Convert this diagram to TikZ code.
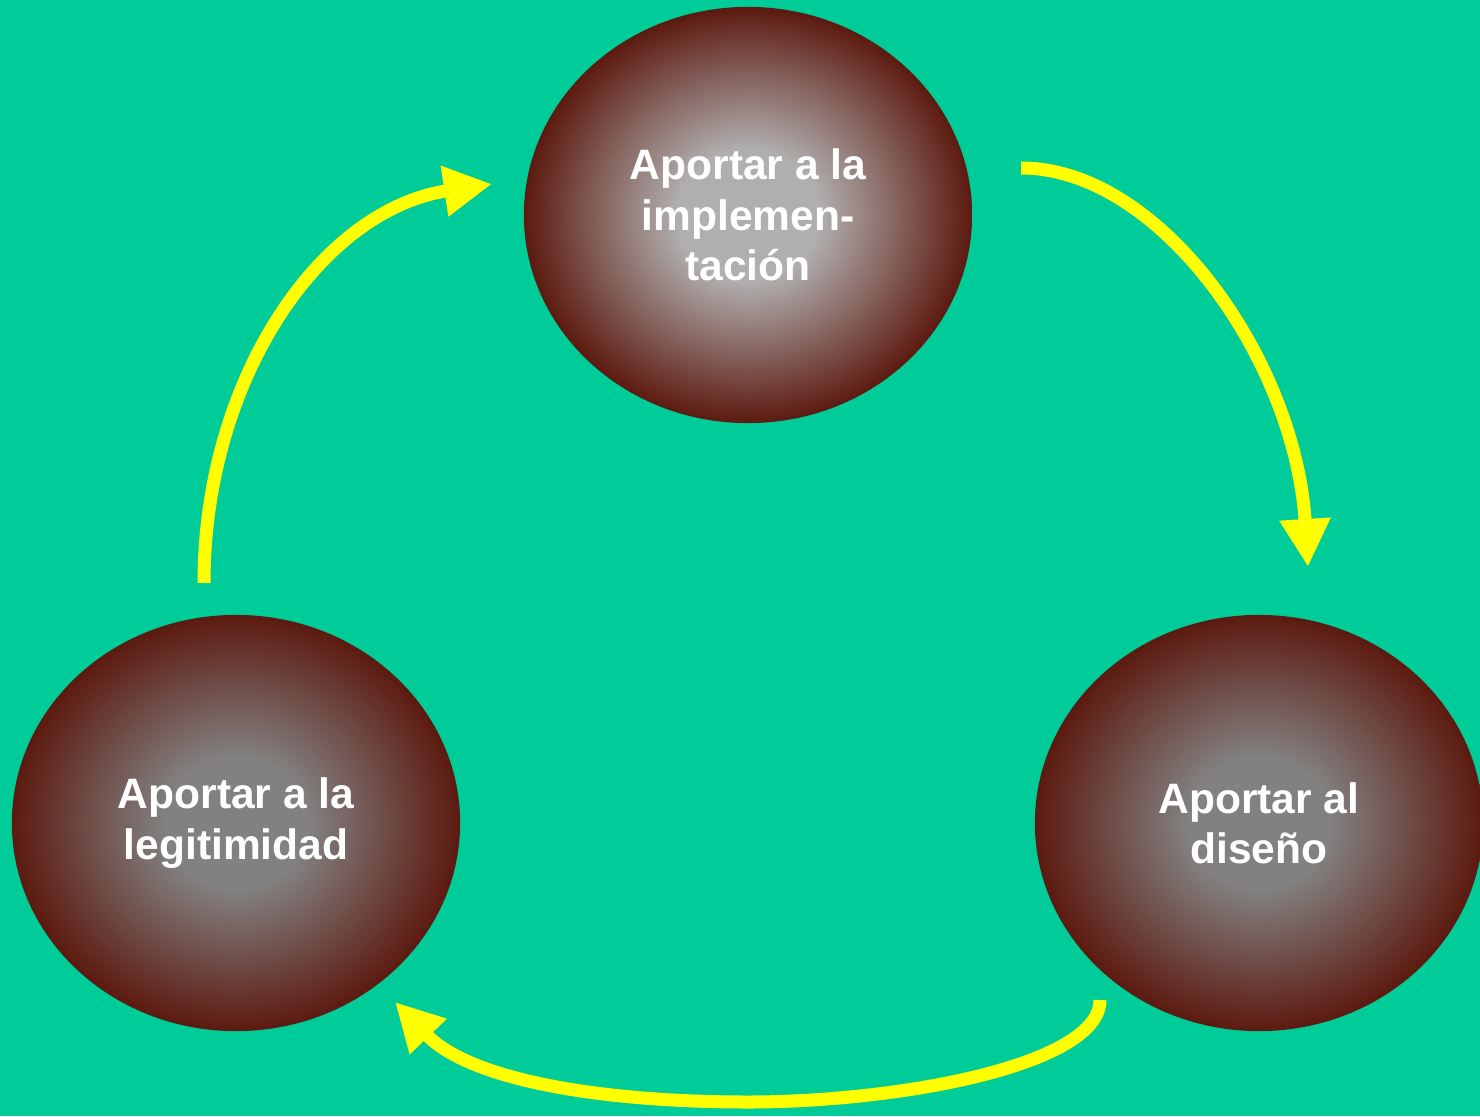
\documentclass[tikz,border=0pt]{standalone}
\usepackage{fontspec}
\setmainfont{Liberation Sans}
\usetikzlibrary{arrows.meta, shapes.geometric}

\definecolor{fondo}{RGB}{0,204,153}
\definecolor{granate}{RGB}{92,26,16}
\definecolor{grisclaro}{RGB}{176,174,174}
\definecolor{grisoscuro}{RGB}{130,128,128}
\definecolor{amarillo}{RGB}{255,255,0}

\pgfdeclareradialshading{esferaclara}{\pgfpoint{0bp}{0bp}}{color(0bp)=(grisclaro); color(8bp)=(grisclaro); color(25bp)=(granate); color(50bp)=(granate)}
\pgfdeclareradialshading{esferaoscura}{\pgfpoint{0bp}{0bp}}{color(0bp)=(grisoscuro); color(8bp)=(grisoscuro); color(25bp)=(granate); color(50bp)=(granate)}

\begin{document}
\begin{tikzpicture}[
		x=0.01cm, y=-0.01cm,
		bola/.style = {ellipse, minimum width=4.48cm, minimum height=4.16cm, inner sep=0pt,
			shading=esferaoscura, text=white, align=center,
			font=\fontsize{12.1}{14.3}\selectfont\bfseries},
		flecha/.style = {->, draw=amarillo, line width=0.13cm},
		>={Triangle[length=0.48cm, width=0.48cm]}
		]
		% Fondo
		\fill[fondo] (0,0) rectangle (1480,1116);
		\useasboundingbox (0,0) rectangle (1480,1116);
		
		% Nodos
		\node[bola, shading=esferaclara] (impl) at (748,215) {Aportar a la\\implemen-\\tación};
		\node[bola] (legit) at (236,823) {Aportar a la\\legitimidad};
		\node[bola] (diseno) at (1259,823) {Aportar al\\diseño};
		
		% Extremos de las flechas
		\coordinate (a1) at (204,583);
		\coordinate (b1) at (492,184);
		\coordinate (a2) at (1021,168);
		\coordinate (b2) at (1308,567);
		\coordinate (a3) at (1100,1000);
		\coordinate (m3) at (748,1102);
		\coordinate (b3) at (395,1002);
		
		% Flechas
		\draw[flecha] (a1) .. controls (204,380) and (320,210) .. (b1);
		\draw[flecha] (a2) .. controls (1160,168) and (1295,360) .. (b2);
		\draw[flecha] (a3) .. controls (1100,1065) and (900,1102) .. (m3)
			.. controls (600,1102) and (470,1080) .. (b3);
	\end{tikzpicture}
\end{document}
